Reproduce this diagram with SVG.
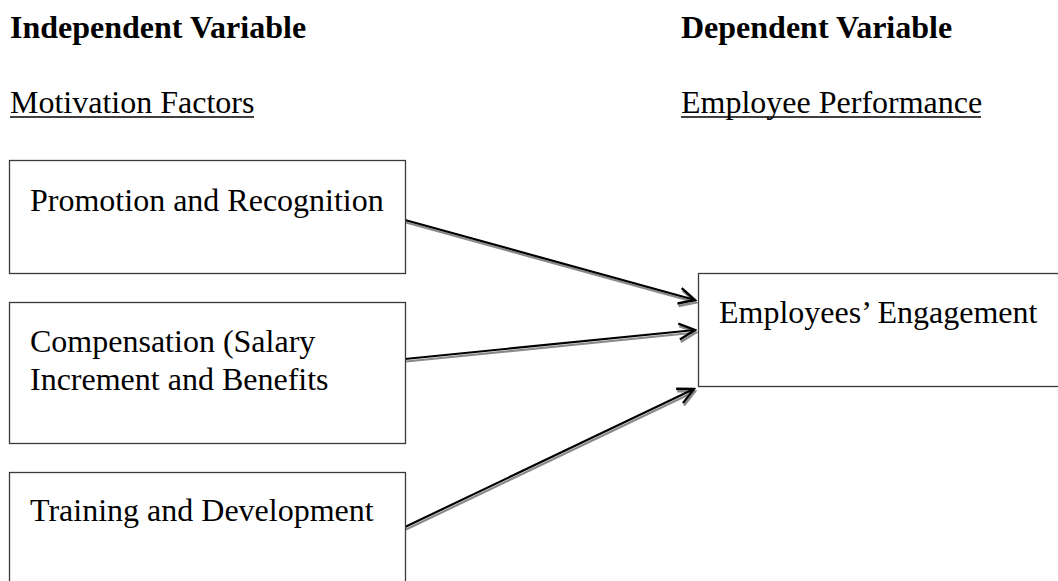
<svg xmlns="http://www.w3.org/2000/svg" width="1058" height="581" viewBox="0 0 1058 581">
  <style>
    .hdr { font-family: "Liberation Serif", "Times New Roman", serif; font-size: 32px; font-weight: bold; fill: #000; }
    .sub { font-family: "Liberation Serif", "Times New Roman", serif; font-size: 32px; fill: #000; }
    .lbl { font-family: "Liberation Serif", "Times New Roman", serif; font-size: 32px; fill: #000; }
    .box { fill: #fff; stroke: #3a3a3a; stroke-width: 1.3; }
    .ul { stroke: #000; stroke-width: 1.6; }
    .wire { fill: none; stroke: #000; stroke-width: 2.2; }
    .wire-shadow { fill: none; stroke: #8a8a8a; stroke-width: 2.2; }
  </style>
  <defs>
    <marker id="head" markerUnits="userSpaceOnUse" viewBox="-2 -2 20 20" refX="16" refY="8" markerWidth="20" markerHeight="20" orient="auto">
      <path d="M0,0 L16,8 L0,16" fill="none" stroke="#000" stroke-width="2.4" stroke-linejoin="miter"/>
    </marker>
    <marker id="head-shadow" markerUnits="userSpaceOnUse" viewBox="-2 -2 20 20" refX="16" refY="8" markerWidth="20" markerHeight="20" orient="auto">
      <path d="M0,0 L16,8 L0,16" fill="none" stroke="#8a8a8a" stroke-width="2.4" stroke-linejoin="miter"/>
    </marker>
  </defs>
  <rect width="1058" height="581" fill="#fff"/>

  <!-- column headings -->
  <g id="headings">
    <text class="hdr" x="10" y="38">Independent Variable</text>
    <text class="sub" x="10" y="113">Motivation Factors</text>
    <line class="ul" x1="10" y1="117" x2="254" y2="117"/>
    <text class="hdr" x="681" y="38">Dependent Variable</text>
    <text class="sub" x="681" y="113">Employee Performance</text>
    <line class="ul" x1="681" y1="117" x2="981" y2="117"/>
  </g>

  <!-- connectors: gray offset stroke under a black stroke -->
  <g id="connectors">
    <g transform="translate(1,2.5)">
      <line class="wire-shadow" x1="405" y1="220" x2="695" y2="300" marker-end="url(#head-shadow)"/>
      <line class="wire-shadow" x1="405" y1="359" x2="695" y2="330" marker-end="url(#head-shadow)"/>
      <line class="wire-shadow" x1="405" y1="527" x2="694" y2="389" marker-end="url(#head-shadow)"/>
    </g>
    <line class="wire" x1="405" y1="220" x2="695" y2="300" marker-end="url(#head)"/>
    <line class="wire" x1="405" y1="359" x2="695" y2="330" marker-end="url(#head)"/>
    <line class="wire" x1="405" y1="527" x2="694" y2="389" marker-end="url(#head)"/>
  </g>

  <g id="promotion">
    <rect class="box" x="9.5" y="160.5" width="396" height="113"/>
    <text class="lbl" x="30" y="211">Promotion and Recognition</text>
  </g>

  <g id="compensation">
    <rect class="box" x="9.5" y="302.5" width="396" height="141"/>
    <text class="lbl" x="30" y="352">Compensation (Salary</text>
    <text class="lbl" x="30" y="390">Increment and Benefits</text>
  </g>

  <g id="training">
    <rect class="box" x="9.5" y="472.5" width="396" height="130"/>
    <text class="lbl" x="30" y="521">Training and Development</text>
  </g>

  <g id="engagement">
    <rect class="box" x="698.5" y="273.5" width="380" height="113"/>
    <text class="lbl" x="719" y="323">Employees’ Engagement</text>
  </g>
</svg>
